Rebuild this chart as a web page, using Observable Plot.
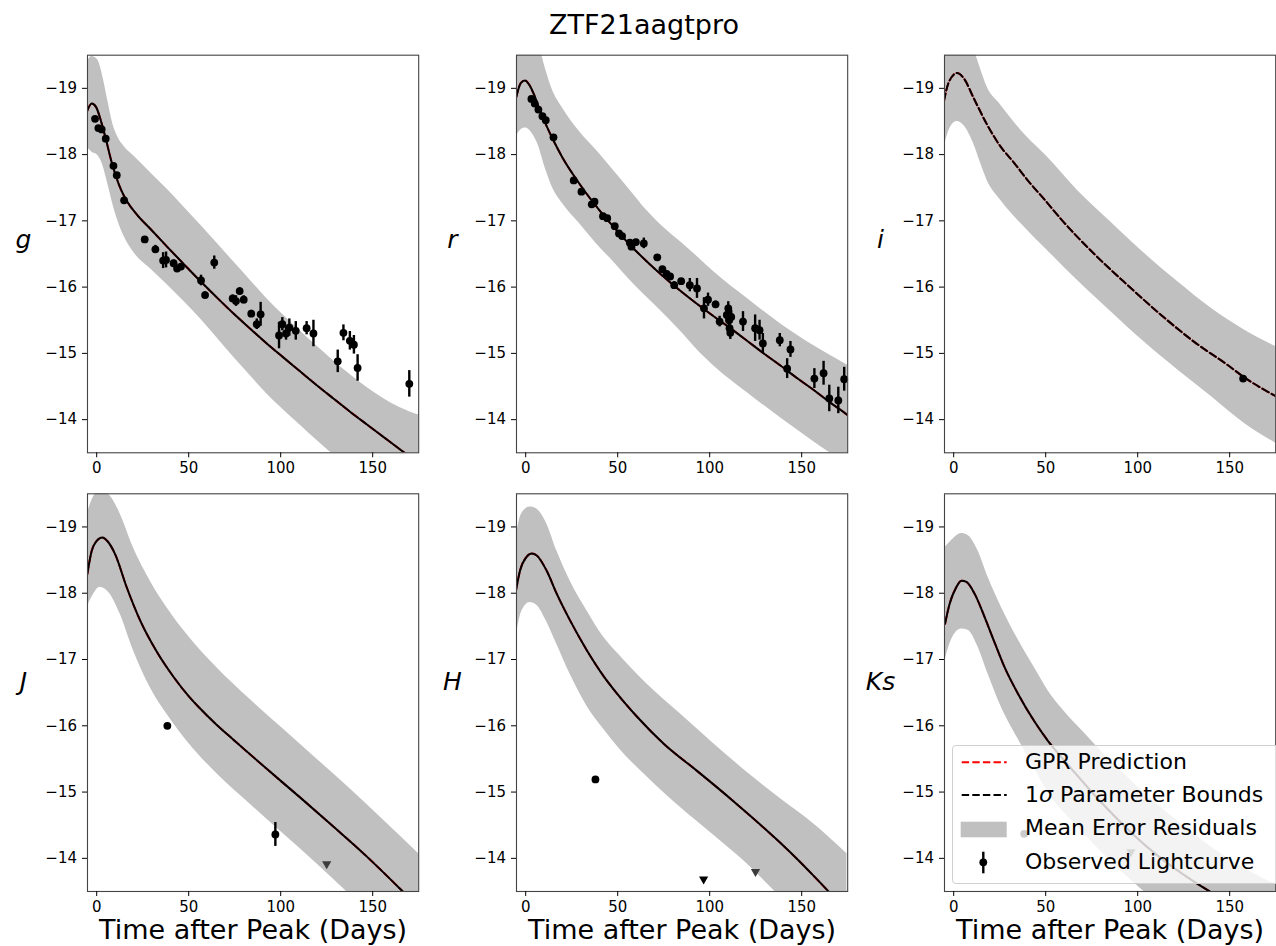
<!DOCTYPE html>
<html>
<head>
<meta charset="utf-8">
<script src="https://cdn.jsdelivr.net/npm/d3@7"></script>
<script src="https://cdn.jsdelivr.net/npm/@observablehq/plot@0.6"></script>
<style>
  html, body { margin: 0; padding: 0; background: #fff; overflow: hidden; }
  #page { position: relative; width: 1276px; height: 946px; font-family: "DejaVu Sans", sans-serif; }
  .abs { position: absolute; }
  .panel svg { max-width: none; background: transparent; }
  .leg-text { position: absolute; font-size: 22px; line-height: 22px; white-space: nowrap; color: #000; }
</style>
</head>
<body>
<div id="page">
  <div class="abs" id="title" style="left:344px; top:11px; width:600px; text-align:center; font-size:27px; line-height:27px;"></div>
</div>
<script>
// ---------------- data ----------------
const title = "ZTF21aagtpro";
const bandNames = ["g", "r", "i", "J", "H", "Ks"];
const xTicks = [0, 50, 100, 150];
const yTicks = [-19, -18, -17, -16, -15, -14];
const xDomain = [-5, 175];
const yDomain = [-13.5, -19.5];
const xLabel = "Time after Peak (Days)";

// model curve [day, mag]
const gModel = [[-5.3,-18.65],[-2.7,-18.77],[-0.4,-18.72],[2.4,-18.50],[5.1,-18.22],[7.8,-17.92],[10.5,-17.67],[13.2,-17.47],[16.8,-17.28],[22.3,-17.08],[29.5,-16.87],[38.6,-16.60],[47.6,-16.34],[56.7,-16.08],[65.8,-15.83],[74.8,-15.59],[83.9,-15.36],[92.4,-15.15],[101.4,-14.94],[110.5,-14.73],[119.6,-14.52],[128.6,-14.32],[137.7,-14.12],[146.7,-13.93],[155.8,-13.74],[164.9,-13.55],[175,-13.34]];
const rModel = [[-5.1,-18.87],[-2.7,-19.08],[-0.4,-19.12],[1.8,-19.06],[4.6,-18.90],[7.3,-18.70],[10.9,-18.46],[15.5,-18.19],[20.1,-17.95],[25.5,-17.71],[32.8,-17.42],[40.1,-17.16],[47.4,-16.92],[56.6,-16.64],[65.7,-16.39],[74.8,-16.16],[84.7,-15.93],[93,-15.75],[102.7,-15.55],[111.7,-15.37],[120.8,-15.18],[129.8,-14.99],[138.8,-14.81],[147.8,-14.62],[156.9,-14.44],[165.9,-14.25],[174.9,-14.07],[178,-14.0]];
const iModel = [[-5.3,-18.81],[-2.7,-19.09],[1.8,-19.23],[5.5,-19.15],[10.9,-18.85],[18.2,-18.45],[25.5,-18.12],[32.7,-17.88],[40,-17.62],[50,-17.30],[58.2,-17.03],[76.4,-16.50],[94.5,-16.03],[112.7,-15.58],[130.9,-15.17],[149.1,-14.82],[157.3,-14.65],[175.3,-14.35]];
const JModel = [[-5.1,-18.29],[-2.7,-18.64],[0,-18.79],[3,-18.84],[6,-18.78],[10,-18.59],[16.3,-18.09],[23.6,-17.59],[32.6,-17.12],[41.7,-16.74],[50.2,-16.44],[56.2,-16.26],[65,-16.02],[74.3,-15.79],[92.4,-15.35],[110.5,-14.92],[128.6,-14.48],[146.7,-14.03],[164.9,-13.54],[175,-13.26]];
const HModel = [[-5.3,-18.04],[-3.1,-18.34],[0.5,-18.55],[3.3,-18.60],[6,-18.57],[11.4,-18.34],[16.9,-17.99],[24.1,-17.59],[33.2,-17.14],[42.3,-16.75],[50.1,-16.47],[60.4,-16.14],[75,-15.73],[93.1,-15.32],[111.3,-14.90],[120,-14.69],[129.4,-14.46],[138.5,-14.23],[147.5,-13.99],[156,-13.75],[163.9,-13.52],[175,-13.18]];
const KsModel = [[-4.7,-17.54],[-2.2,-17.84],[1.4,-18.09],[4.2,-18.19],[6.9,-18.17],[11.4,-17.99],[16.8,-17.64],[22.3,-17.25],[27.7,-16.88],[35,-16.48],[44,-16.06],[51.3,-15.77],[60,-15.48],[70,-15.16],[78,-14.91],[88,-14.62],[98,-14.35],[110,-14.06],[120,-13.85],[130,-13.66],[138,-13.52],[150,-13.33]];

// mean error residual band [day, bright edge, faint edge]
const gBand = [[-5.3,-19.38,-18.12],[-2.7,-19.48,-18.04],[0.5,-19.43,-17.99],[3.3,-19.18,-17.84],[6,-18.82,-17.56],[8.7,-18.47,-17.26],[11.4,-18.27,-17.01],[15,-18.12,-16.76],[20.5,-17.97,-16.51],[29.5,-17.72,-16.27],[38.6,-17.47,-16.03],[47.6,-17.20,-15.78],[56.7,-16.93,-15.51],[65.8,-16.65,-15.22],[74.8,-16.37,-14.93],[83.9,-16.09,-14.65],[92.4,-15.83,-14.39],[101.4,-15.58,-14.15],[110.5,-15.34,-13.92],[119.6,-15.11,-13.69],[128.6,-14.89,-13.47],[137.7,-14.68,-13.25],[146.7,-14.49,-13.05],[155.8,-14.32,-12.87],[165,-14.18,-12.7],[175,-14.07,-12.55]];
const rBand = [[-5.1,-20.0,-18.27],[-2.7,-20.1,-18.37],[0,-20.15,-18.40],[2.7,-20.05,-18.35],[6.4,-19.75,-18.17],[10.9,-19.28,-17.77],[14.6,-18.97,-17.50],[20.1,-18.70,-17.26],[29.2,-18.35,-16.96],[38.3,-18.07,-16.66],[47.4,-17.77,-16.39],[56.8,-17.46,-16.10],[65.7,-17.16,-15.85],[75,-16.90,-15.60],[84.3,-16.68,-15.33],[93.3,-16.46,-15.05],[102.7,-16.22,-14.80],[120.8,-15.82,-14.40],[138.8,-15.44,-14.02],[156.9,-15.11,-13.66],[175,-14.82,-13.32]];
const iBand = [[-5.3,-19.9,-18.11],[-1.8,-20.1,-18.41],[1.8,-20.15,-18.50],[5.5,-20.0,-18.44],[10.9,-19.6,-18.16],[14.5,-19.3,-17.88],[18.2,-19.02,-17.61],[25.5,-18.75,-17.31],[40,-18.26,-16.86],[50,-17.99,-16.58],[67.3,-17.46,-16.10],[85.5,-16.98,-15.63],[103.6,-16.51,-15.17],[121.8,-16.08,-14.75],[140,-15.68,-14.35],[158.2,-15.35,-13.94],[175.3,-15.10,-13.64]];
const JBand = [[-5.1,-19.2,-17.79],[-1.8,-19.45,-17.98],[1.8,-19.55,-18.09],[7.2,-19.47,-17.99],[12.7,-19.2,-17.69],[19.9,-18.69,-17.14],[29,-18.19,-16.58],[38,-17.79,-16.18],[50.2,-17.34,-15.73],[65.2,-16.88,-15.28],[83.3,-16.40,-14.82],[101.4,-15.95,-14.37],[119.6,-15.50,-13.92],[137.7,-15.05,-13.45],[155.8,-14.58,-13.0],[175,-14.07,-12.5]];
const HBand = [[-5.3,-18.84,-17.34],[-2.2,-19.2,-17.72],[2.4,-19.30,-17.86],[6,-19.27,-17.82],[11.4,-19.05,-17.57],[16.9,-18.64,-17.23],[24.1,-18.19,-16.78],[33.2,-17.74,-16.30],[42.3,-17.34,-15.95],[50.1,-17.09,-15.68],[65.9,-16.63,-15.23],[84,-16.18,-14.77],[102.2,-15.73,-14.35],[120.3,-15.30,-13.92],[138.5,-14.90,-13.42],[156.6,-14.52,-13.0],[174.6,-14.07,-12.6]];
const KsBand = [[-4.7,-18.69,-16.98],[-1.3,-18.79,-17.29],[4.2,-18.90,-17.46],[7.8,-18.87,-17.44],[13.2,-18.64,-17.19],[18.7,-18.24,-16.78],[25.9,-17.79,-16.28],[35,-17.30,-15.80],[44,-16.87,-15.35],[51.3,-16.53,-14.99],[60,-16.22,-14.69],[70,-15.92,-14.40],[78,-15.68,-14.16],[88,-15.40,-13.89],[98,-15.13,-13.63],[110,-14.83,-13.35],[120,-14.60,-13.13],[130,-14.38,-12.93],[140,-14.17,-12.75],[158,-13.85,-12.45],[175,-13.60,-12.2]];

// observed lightcurve [day, mag, error]
const gObs = [[-0.9,-18.54,0.03],[0.9,-18.40,0.03],[2.7,-18.38,0.03],[4.9,-18.24,0.03],[9.1,-17.83,0.04],[10.9,-17.69,0.04],[14.9,-17.31,0.03],[26.1,-16.72,0.03],[31.9,-16.57,0.06],[36.1,-16.40,0.12],[37.7,-16.41,0.12],[41.8,-16.36,0.05],[43.7,-16.28,0.05],[45.8,-16.31,0.04],[56.7,-16.10,0.08],[58.9,-15.88,0.05],[63.9,-16.37,0.1],[73.9,-15.83,0.05],[75.7,-15.79,0.08],[77.7,-15.94,0.05],[79.9,-15.81,0.06],[84.0,-15.60,0.05],[87.0,-15.44,0.08],[89.1,-15.59,0.18],[99.1,-15.27,0.2],[100.9,-15.44,0.1],[102.9,-15.30,0.1],[104.7,-15.39,0.13],[108.2,-15.34,0.14],[114.1,-15.38,0.1],[117.8,-15.30,0.2],[131.0,-14.88,0.17],[134.1,-15.31,0.12],[137.6,-15.19,0.14],[139.8,-15.13,0.14],[141.8,-14.78,0.2],[169.9,-14.54,0.2]];
const rObs = [[3.1,-18.84,0.03],[4.9,-18.77,0.03],[6.9,-18.68,0.03],[9.1,-18.58,0.03],[10.9,-18.52,0.03],[15.1,-18.26,0.03],[26.1,-17.61,0.03],[30.3,-17.44,0.03],[35.9,-17.25,0.04],[37.4,-17.29,0.04],[42.0,-17.07,0.03],[44.3,-17.04,0.03],[48.4,-16.92,0.03],[50.7,-16.81,0.03],[52.4,-16.77,0.03],[56.6,-16.67,0.03],[57.5,-16.61,0.04],[59.9,-16.68,0.04],[64.2,-16.66,0.08],[71.5,-16.45,0.04],[74.3,-16.27,0.04],[76.6,-16.20,0.04],[78.5,-16.16,0.04],[80.7,-16.03,0.05],[84.5,-16.09,0.04],[89.2,-16.03,0.1],[93.1,-15.98,0.15],[96.9,-15.68,0.16],[99.1,-15.81,0.1],[103.2,-15.74,0.05],[105.4,-15.48,0.08],[109.3,-15.58,0.08],[110.1,-15.68,0.1],[110.5,-15.50,0.1],[110.8,-15.38,0.12],[111.2,-15.31,0.1],[111.7,-15.55,0.1],[118.1,-15.48,0.15],[124.7,-15.38,0.2],[127.1,-15.35,0.15],[128.9,-15.15,0.15],[138.1,-15.20,0.1],[142.1,-14.77,0.15],[143.9,-15.06,0.12],[156.9,-14.62,0.15],[161.9,-14.70,0.18],[165.0,-14.32,0.2],[169.9,-14.29,0.2],[173.1,-14.61,0.18]];
const iObs = [[157.3,-14.62,0.04]];
const JObs = [[38.4,-16.0,0.03],[97.1,-14.36,0.18]];
const HObs = [[37.9,-15.19,0.03]];
const KsObs = [[38.3,-14.37,0.03]];

// upper limits [day, mag]
const JLimits = [[125.0,-13.91]];
const HLimits = [[96.7,-13.68]];
const HLimitsLate = [[124.9,-13.79]];
const KsLimits = [[96.3,-14.09]];

const legendLabels = ["GPR Prediction", "1σ Parameter Bounds", "Mean Error Residuals", "Observed Lightcurve"];

// ---------------- drawing ----------------
document.getElementById("title").textContent = title;

const triDown = {
  draw(ctx, size) {
    const r = Math.sqrt(size / Math.PI);
    ctx.moveTo(-1.1 * r, -0.75 * r);
    ctx.lineTo(1.1 * r, -0.75 * r);
    ctx.lineTo(0, 1.15 * r);
    ctx.closePath();
  }
};

const panels = [
  {name: bandNames[0], model: gModel, band: gBand, obs: gObs, lim: [], limLate: [], col: 0, row: 0},
  {name: bandNames[1], model: rModel, band: rBand, obs: rObs, lim: [], limLate: [], col: 1, row: 0},
  {name: bandNames[2], model: iModel, band: iBand, obs: iObs, lim: [], limLate: [], col: 2, row: 0, dashed: true},
  {name: bandNames[3], model: JModel, band: JBand, obs: JObs, lim: [], limLate: JLimits, col: 0, row: 1},
  {name: bandNames[4], model: HModel, band: HBand, obs: HObs, lim: HLimits, limLate: HLimitsLate, col: 1, row: 1},
  {name: bandNames[5], model: KsModel, band: KsBand, obs: KsObs, lim: [], limLate: KsLimits, col: 2, row: 1}
];

const frameLeft = [87.3, 516, 943.7];
const frameW = 331.2;
const mL = 87, mR = 1;
const rows = [
  {svgTop: 0, mT: 54.7, frameH: 397.6, mB: 25},
  {svgTop: 470, mT: 23.3, frameH: 397.7, mB: 55}
];

const page = document.getElementById("page");
const fmt = d => (d < 0 ? "\u2212" : "") + Math.abs(d);

for (const p of panels) {
  const R = rows[p.row];
  const W = mL + frameW + mR;
  const H = R.mT + R.frameH + R.mB;
  const marks = [
    Plot.areaY(p.band, {x: d => d[0], y1: d => d[1], y2: d => d[2], fill: "#c0c0c0", curve: "monotone-x", clip: true}),
    Plot.line(p.model, {x: d => d[0], y: d => d[1], stroke: "red", strokeWidth: 2, strokeDasharray: "7.4,3.2", curve: "monotone-x", clip: true}),
    Plot.line(p.model, {x: d => d[0], y: d => d[1], stroke: "black", strokeWidth: 2, strokeDasharray: p.dashed ? "7.4,3.2" : null, curve: "monotone-x", clip: true}),
    Plot.ruleX(p.obs, {x: d => d[0], y1: d => d[1] - d[2], y2: d => d[1] + d[2], stroke: "black", strokeWidth: 2.4}),
    Plot.dot(p.obs, {x: d => d[0], y: d => d[1], r: 3.9, fill: "black", stroke: null}),
    Plot.dot(p.lim, {x: d => d[0], y: d => d[1], r: 4.2, symbol: triDown, fill: "black", stroke: null}),
    Plot.dot(p.limLate, {x: d => d[0], y: d => d[1], r: 4.2, symbol: triDown, fill: "#3c3c3c", stroke: null}),
    Plot.frame({stroke: "#444", strokeWidth: 1.1}),
    Plot.axisX({ticks: xTicks, tickSize: 5, tickPadding: 5, fontSize: 15, label: null, tickFormat: fmt}),
    Plot.axisY({ticks: yTicks, tickSize: 5, tickPadding: 5.5, fontSize: 15, label: null, tickFormat: fmt}),
    Plot.text([p.name], {text: d => d, frameAnchor: "left", dx: -64, dy: p.row === 0 ? -6 : -3, lineAnchor: "bottom", textAnchor: "middle", fontSize: 25, fontStyle: "italic"})
  ];
  if (p.row === 1) {
    marks.push(Plot.text([xLabel], {text: d => d, frameAnchor: "bottom", dy: 48, lineAnchor: "bottom", textAnchor: "middle", fontSize: 27}));
  }
  const svg = Plot.plot({
    width: W, height: H,
    marginLeft: mL, marginRight: mR, marginTop: R.mT, marginBottom: R.mB,
    x: {domain: xDomain},
    y: {domain: yDomain},
    style: {fontFamily: "DejaVu Sans", fontSize: "15px", background: "transparent", overflow: "visible", color: "black"},
    marks
  });
  const wrap = document.createElement("div");
  wrap.className = "abs panel";
  wrap.style.left = (frameLeft[p.col] - mL) + "px";
  wrap.style.top = R.svgTop + "px";
  wrap.style.width = W + "px";
  wrap.style.height = H + "px";
  wrap.appendChild(svg);
  page.appendChild(wrap);
}

// ---------------- legend (overlay, semi-transparent like the original) ----------------
const legendHTML = `
  <div class="abs" style="left:952px; top:745px; width:340px; height:139px; box-sizing:border-box; background:rgba(255,255,255,0.8); border:1px solid #d0d0d0; border-radius:4px;"></div>
  <svg class="abs" style="left:955px; top:745px; overflow:visible" width="60" height="140">
    <line x1="6.7" x2="51.7" y1="17.3" y2="17.3" stroke="red" stroke-width="2" stroke-dasharray="7.4,3.2"/>
    <line x1="6.7" x2="51.7" y1="50" y2="50" stroke="black" stroke-width="2" stroke-dasharray="7.4,3.2"/>
    <rect x="5.7" y="76.7" width="46" height="15.6" fill="#c0c0c0"/>
    <line x1="28.3" x2="28.3" y1="106.7" y2="128.3" stroke="black" stroke-width="2.4"/>
    <circle cx="28.3" cy="117.3" r="3.9" fill="black"/>
  </svg>
  <div class="leg-text" style="left:1025px; top:751.4px">${legendLabels[0]}</div>
  <div class="leg-text" style="left:1025px; top:784.1px">1<i>σ</i>${legendLabels[1].slice(2)}</div>
  <div class="leg-text" style="left:1025px; top:817.4px">${legendLabels[2]}</div>
  <div class="leg-text" style="left:1025px; top:850.7px">${legendLabels[3]}</div>
`;
const legWrap = document.createElement("div");
legWrap.innerHTML = legendHTML;
while (legWrap.firstChild) page.appendChild(legWrap.firstChild);
</script>
</body>
</html>
